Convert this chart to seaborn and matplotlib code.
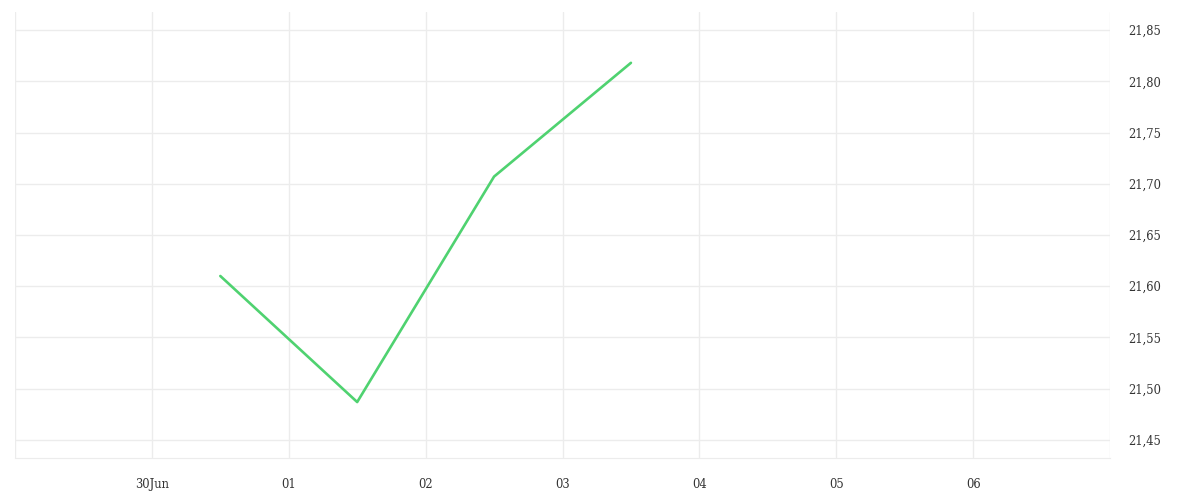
import pandas as pd
import seaborn as sns
import matplotlib.pyplot as plt
import matplotlib.ticker as mticker

# data
dates = ["2023-06-30 12:00", "2023-07-01 12:00", "2023-07-02 12:00", "2023-07-03 12:00"]
values = [21.610, 21.487, 21.707, 21.818]
tick_days = pd.date_range("2023-06-29", "2023-07-07", freq="D")
tick_labels = ["", "30Jun", "01", "02", "03", "04", "05", "06", ""]
y_ticks = [21.45, 21.50, 21.55, 21.60, 21.65, 21.70, 21.75, 21.80, 21.85]

df = pd.DataFrame({"date": pd.to_datetime(dates), "value": values})

sns.set_style("white")
plt.rcParams["font.family"] = ["DejaVu Serif"]

fig = plt.figure(figsize=(12, 5), dpi=100)
ax = fig.add_axes([15 / 1200, 42 / 500, 1095 / 1200, 446 / 500])

sns.lineplot(data=df, x="date", y="value", color="#4fd270", linewidth=1.9, ax=ax)

grid_c = "#ececec"
ax.set_xlim(tick_days[0], tick_days[-1])
ax.set_ylim(21.4324, 21.8676)
ax.set_xticks(tick_days)
ax.set_xticklabels(tick_labels)
ax.set_yticks(y_ticks)
ax.yaxis.set_major_formatter(mticker.FuncFormatter(lambda v, p: f"{v:.2f}".replace(".", ",")))
ax.yaxis.tick_right()

ax.grid(True, color=grid_c, linewidth=1)
for s in ["top", "left", "right"]:
    ax.spines[s].set_visible(False)
ax.spines["bottom"].set_color(grid_c)
ax.tick_params(axis="x", length=6.5, width=1, color="#e6e6e6", pad=8, labelsize=8.3, labelcolor="#333333")
ax.tick_params(axis="y", length=0, pad=13, labelsize=8.3, labelcolor="#333333")
ax.set_xlabel("")
ax.set_ylabel("")

plt.savefig("out.png", dpi=100)
